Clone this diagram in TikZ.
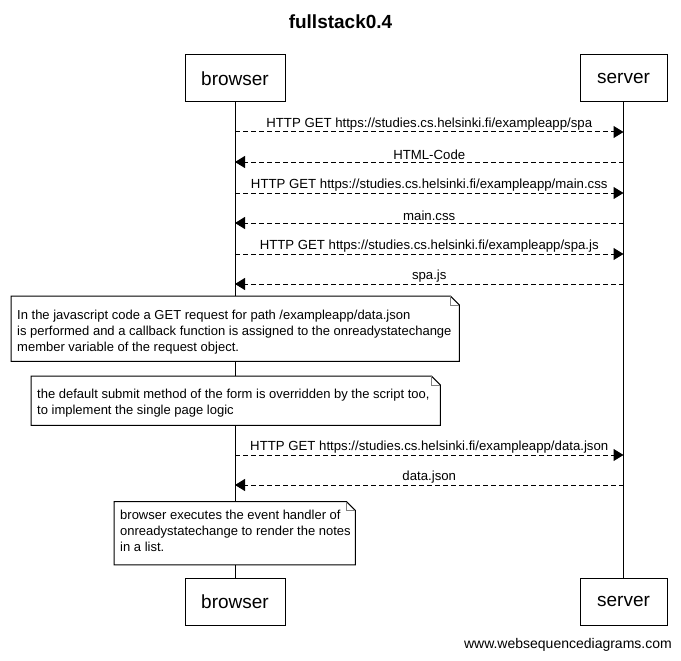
\documentclass[tikz,border=0pt]{standalone}
\usepackage{fontspec}
\setmainfont{Liberation Sans}
\usetikzlibrary{arrows.meta,positioning,calc}
\tikzset{
  actor/.style={rectangle,draw,line width=1pt,fill=white,minimum height=47pt,inner sep=0pt,font=\fontsize{19}{22}\selectfont},
  life/.style={line width=1pt},
  req/.style={-{Triangle[length=10pt,width=12pt]},dash pattern=on 5pt off 3pt,line width=1pt},
  lbl/.style={font=\fontsize{13.2}{15}\selectfont,inner sep=1.5pt,anchor=south},
  notebox/.style={rectangle,fill=white,inner sep=0pt,anchor=north west},
  notetext/.style={align=left,inner sep=0pt,font=\fontsize{13}{16}\selectfont}
}
% outline with folded corner around a note box
\newcommand{\foldnote}[1]{%
  \draw[line width=1pt] (#1.north west) -- ($(#1.north east)+(-9pt,0pt)$) -- ($(#1.north east)+(0pt,-9pt)$) -- (#1.south east) -- (#1.south west) -- cycle;
  \draw[gray,line width=1pt] ($(#1.north east)+(-9pt,0pt)$) |- ($(#1.north east)+(0pt,-9pt)$);
}

\begin{document}
\begin{tikzpicture}[x=1pt,y=-1pt]
\useasboundingbox (0,0) rectangle (681,661);
\node[font=\fontsize{19}{22}\selectfont\bfseries] (title) at (340.5,22) {fullstack0.4};

\node[actor,minimum width=100pt] (bTop) at (235,78.5) {browser};
\node[actor,minimum width=87pt] (sTop) at (623.5,78.5) {server};
\node[actor,minimum width=100pt] (bBot) at (235,601.5) {browser};
\node[actor,minimum width=87pt] (sBot) at (623.5,601.5) {server};
\draw[life] (bTop) -- (bBot);
\draw[life] (sTop) -- (sBot);

% points on the lifelines
\coordinate (b1) at (235,132); \coordinate (s1) at (623.5,132);
\coordinate (b2) at (235,162); \coordinate (s2) at (623.5,162);
\coordinate (b3) at (235,193); \coordinate (s3) at (623.5,193);
\coordinate (b4) at (235,223); \coordinate (s4) at (623.5,223);
\coordinate (b5) at (235,254); \coordinate (s5) at (623.5,254);
\coordinate (b6) at (235,284); \coordinate (s6) at (623.5,284);
\coordinate (b7) at (235,455); \coordinate (s7) at (623.5,455);
\coordinate (b8) at (235,485); \coordinate (s8) at (623.5,485);

\draw[req] (b1) -- node[lbl] {HTTP GET https://studies.cs.helsinki.fi/exampleapp/spa} (s1);
\draw[req] (s2) -- node[lbl] {HTML-Code} (b2);
\draw[req] (b3) -- node[lbl] {HTTP GET https://studies.cs.helsinki.fi/exampleapp/main.css} (s3);
\draw[req] (s4) -- node[lbl] {main.css} (b4);
\draw[req] (b5) -- node[lbl] {HTTP GET https://studies.cs.helsinki.fi/exampleapp/spa.js} (s5);
\draw[req] (s6) -- node[lbl] {spa.js} (b6);

\node[notebox,minimum width=448pt,minimum height=65pt] (n1) at (11,296) {};
\foldnote{n1}
\node[notetext,below right=13.8pt and 6pt of n1.north west] (t1) {In the javascript code a GET request for path /exampleapp/data.json\\is performed and a callback function is assigned to the onreadystatechange\\member variable of the request object.};

\node[notebox,minimum width=409pt,minimum height=49pt] (n2) at (31,376) {};
\foldnote{n2}
\node[notetext,below right=12.5pt and 6pt of n2.north west] (t2) {the default submit method of the form is overridden by the script too,\\to implement the single page logic};

\draw[req] (b7) -- node[lbl] {HTTP GET https://studies.cs.helsinki.fi/exampleapp/data.json} (s7);
\draw[req] (s8) -- node[lbl] {data.json} (b8);

\node[notebox,minimum width=241pt,minimum height=63pt] (n3) at (114,501.5) {};
\foldnote{n3}
\node[notetext,below right=8.8pt and 6pt of n3.north west] (t3) {browser executes the event handler of\\onreadystatechange to render the notes\\in a list.};

\node[font=\fontsize{14}{16}\selectfont,anchor=east,inner sep=0pt] (web) at (672,645) {www.websequencediagrams.com};
\end{tikzpicture}
\end{document}
